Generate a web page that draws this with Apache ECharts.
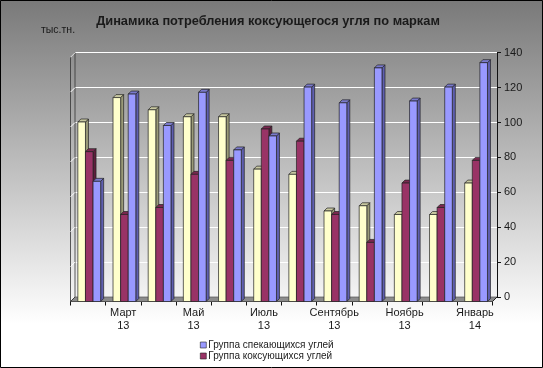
<!DOCTYPE html>
<html><head><meta charset="utf-8">
<script src="https://cdn.jsdelivr.net/npm/echarts@6/dist/echarts.min.js"></script>
<style>html,body{margin:0;padding:0;background:#fff}#c{width:543px;height:368px}</style>
</head><body><div id="c"></div>
<script>
const categories = ['Февраль\n13','Март\n13','Апрель\n13','Май\n13','Июнь\n13','Июль\n13','Август\n13','Сентябрь\n13','Октябрь\n13','Ноябрь\n13','Декабрь\n13','Январь\n14'];
const yellowVals = [102, 116, 109, 105, 105, 75, 72, 51, 54, 49, 49, 67];
const redVals    = [85, 49, 53, 72, 80, 98, 91, 49, 33, 67, 53, 80];
const blueVals   = [68, 118, 100, 119, 86, 94, 122, 113, 133, 114, 122, 136];
const yTicks = [0, 20, 40, 60, 80, 100, 120, 140];
const seriesNames = ['Группа', 'Группа коксующихся углей', 'Группа спекающихся углей'];

const FONT = 'Liberation Sans, Arial, sans-serif';
const palettes = [
  {front:'#FFFFCC', top:'#C8C8A0', side:'#9A9A78'},
  {front:'#993366', top:'#7A2850', side:'#5E1E3C'},
  {front:'#9999FF', top:'#7A7ACC', side:'#5F5FB0'}
];
const OFF = 4.5, D = 3;

function barRender(k) {
  return function (params, api) {
    const i = api.value(0), v = api.value(1);
    const p = api.coord([i, v]);
    const p0 = api.coord([i, 0]);
    const cw = api.size([1, 0])[0];
    const catStart = p[0] - cw / 2;
    const fw = 0.216 * cw;
    const fx = catStart - 4 + (0.195 + k * 0.216) * cw;
    const ft = p[1] + 3;
    const fb = p0[1] + 4.5;
    const pal = palettes[k];
    const st = {stroke: '#222', lineWidth: 0.7};
    return {
      type: 'group',
      children: [
        {type: 'polygon', shape: {points: [[fx + fw, ft], [fx + fw + D, ft - D], [fx + fw + D, fb - D], [fx + fw, fb]]}, style: Object.assign({fill: pal.side}, st)},
        {type: 'polygon', shape: {points: [[fx, ft], [fx + D, ft - D], [fx + fw + D, ft - D], [fx + fw, ft]]}, style: Object.assign({fill: pal.top}, st)},
        {type: 'rect', shape: {x: fx, y: ft, width: fw, height: fb - ft}, style: Object.assign({fill: pal.front}, st)}
      ]
    };
  };
}

function wallRender(params, api) {
  const a = api.coord([0, 0]);
  const cw = api.size([1, 0])[0];
  const x0 = a[0] - cw / 2;
  const x1 = api.coord([categories.length - 1, 0])[0] + cw / 2;
  const y0 = a[1];
  const yTop = api.coord([0, yTicks[yTicks.length - 1]])[1];
  const children = [];
  children.push({type: 'polygon', shape: {points: [[x0 - OFF, y0 + OFF], [x0, y0], [x1, y0], [x1 - OFF, y0 + OFF]]},
    style: {fill: '#8c8c8c', stroke: '#555', lineWidth: 0.7}});
  children.push({type: 'polygon', shape: {points: [[x0 - OFF, yTop + OFF], [x0, yTop], [x0, y0], [x0 - OFF, y0 + OFF]]},
    style: {fill: 'rgba(0,0,0,0)', stroke: '#333', lineWidth: 0.8}});
  yTicks.forEach(function (t) {
    if (t === 0) return;
    const y = api.coord([0, t])[1];
    children.push({type: 'line', shape: {x1: x0 - OFF, y1: y + OFF, x2: x0, y2: y}, style: {stroke: '#fff', lineWidth: 1}});
  });
  children.push({type: 'line', shape: {x1: x1, y1: y0, x2: x1 - OFF, y2: y0 + OFF}, style: {stroke: '#222', lineWidth: 1}});
  return {type: 'group', children: children};
}

function pairs(vals) { return vals.map(function (v, i) { return [i, v]; }); }

const chart = echarts.init(document.getElementById('c'), null, {renderer: 'canvas'});
chart.setOption({
  animation: false,
  backgroundColor: {type: 'linear', x: 0, y: 0, x2: 0, y2: 1,
    colorStops: [{offset: 0, color: '#797979'}, {offset: 0.88, color: '#ffffff'}, {offset: 1, color: '#ffffff'}]},
  textStyle: {fontFamily: FONT},
  title: [
    {text: 'Динамика потребления коксующегося угля по маркам', left: 263, top: 10, textAlign: 'center',
      textStyle: {fontSize: 12.8, fontWeight: 'bold', color: '#1a1a1a', fontFamily: FONT}},
    {text: 'тыс.тн.', left: 36, top: 20, textStyle: {fontSize: 10.5, fontWeight: 'normal', color: '#1a1a1a', fontFamily: FONT}}
  ],
  legend: {
    orient: 'vertical', left: 200, top: 340, padding: 0, itemGap: 1, itemWidth: 6, itemHeight: 6, icon: 'rect',
    data: [seriesNames[2], seriesNames[1]],
    textStyle: {fontSize: 10, color: '#1a1a1a', fontFamily: FONT, padding: [0, 0, 0, -3]},
    itemStyle: {borderColor: '#222', borderWidth: 0.6}
  },
  grid: [
    {left: 75, right: 46, top: 52.7, bottom: 71},
    {left: 70.5, right: 50.5, top: 57.2, bottom: 66.5}
  ],
  xAxis: [
    {type: 'category', gridIndex: 0, data: categories, show: false},
    {type: 'category', gridIndex: 1, data: categories,
      axisLine: {lineStyle: {color: '#111', width: 1}},
      axisTick: {show: true, interval: 0, length: 4, lineStyle: {color: '#111'}},
      axisLabel: {interval: function (i) { return i % 2 === 1; }, fontSize: 11, lineHeight: 13, color: '#1a1a1a', margin: 5, fontFamily: FONT}}
  ],
  yAxis: [
    {type: 'value', gridIndex: 0, position: 'right', min: 0, max: 140, interval: 20,
      axisLine: {show: true, lineStyle: {color: '#111', width: 1}},
      axisTick: {show: true, length: 4, inside: false, lineStyle: {color: '#111'}},
      splitLine: {show: true, lineStyle: {color: '#ffffff', width: 1.2}},
      axisLabel: {fontSize: 11, color: '#1a1a1a', margin: 7, fontFamily: FONT}},
    {type: 'value', gridIndex: 1, min: 0, max: 140, show: false}
  ],
  series: [
    {type: 'custom', name: 'walls', xAxisIndex: 0, yAxisIndex: 0, renderItem: wallRender, data: [[0, 0]], silent: true, z: 1},
    {type: 'custom', name: seriesNames[0], xAxisIndex: 0, yAxisIndex: 0, renderItem: barRender(0), data: pairs(yellowVals), itemStyle: {color: palettes[0].front}, encode: {x: 0, y: 1}, z: 2},
    {type: 'custom', name: seriesNames[1], xAxisIndex: 0, yAxisIndex: 0, renderItem: barRender(1), data: pairs(redVals), itemStyle: {color: palettes[1].front}, encode: {x: 0, y: 1}, z: 3},
    {type: 'custom', name: seriesNames[2], xAxisIndex: 0, yAxisIndex: 0, renderItem: barRender(2), data: pairs(blueVals), itemStyle: {color: palettes[2].front}, encode: {x: 0, y: 1}, z: 4}
  ],
  graphic: [
    {type: 'rect', shape: {x: 0.5, y: 0.5, width: 542, height: 367}, style: {fill: 'none', stroke: '#000', lineWidth: 1}, z: 100, silent: true}
  ]
});
</script></body></html>
